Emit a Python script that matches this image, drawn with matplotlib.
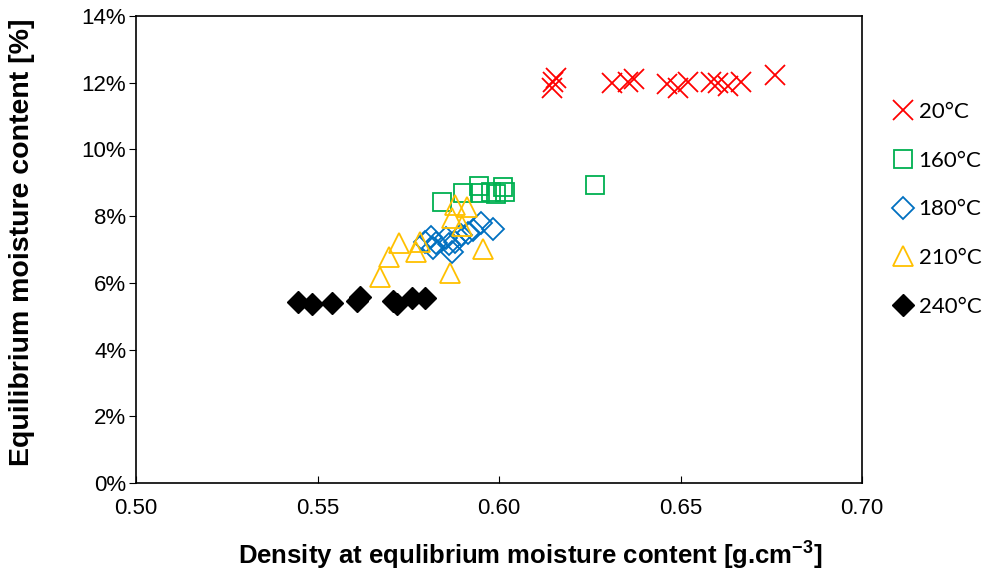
import matplotlib
matplotlib.use("Agg")
import matplotlib.pyplot as plt
from matplotlib.ticker import FuncFormatter

# values
x_20 = [0.6149, 0.6157, 0.6146, 0.6311, 0.6355, 0.6372, 0.6463, 0.6493,
        0.6521, 0.6584, 0.6603, 0.6631, 0.6667, 0.6760]
y_20 = [12.02, 12.14, 11.84, 11.99, 12.02, 12.11, 11.96, 11.84,
        12.02, 12.02, 11.99, 11.90, 12.02, 12.23]

x_160 = [0.5843, 0.5901, 0.5945, 0.5948, 0.5978, 0.5992, 0.6011, 0.6017, 0.6264]
y_160 = [8.42, 8.69, 8.90, 8.69, 8.72, 8.66, 8.87, 8.72, 8.93]

x_180 = [0.5796, 0.5813, 0.5826, 0.5818, 0.5854, 0.5862, 0.5871, 0.5879,
         0.5895, 0.5915, 0.5928, 0.5950, 0.5983]
y_180 = [7.22, 7.37, 7.19, 7.04, 7.34, 7.16, 6.92, 7.22,
         7.43, 7.49, 7.58, 7.79, 7.61]

x_210 = [0.5672, 0.5697, 0.5725, 0.5771, 0.5782, 0.5871, 0.5879, 0.5898,
         0.5912, 0.5956, 0.5865]
y_210 = [6.18, 6.77, 7.19, 6.92, 7.22, 7.94, 8.33, 7.70, 8.27, 7.01, 6.29]

x_240 = [0.5446, 0.5485, 0.5540, 0.5609, 0.5617, 0.5708, 0.5719, 0.5760, 0.5796]
y_240 = [5.43, 5.37, 5.40, 5.46, 5.58, 5.46, 5.37, 5.55, 5.55]

plt.rcParams['font.family'] = ['Liberation Sans', 'DejaVu Sans']

fig = plt.figure(figsize=(9.85, 5.77), dpi=100)
ax = fig.add_axes([136/985, 1 - 483/577, (862-136)/985, (483-16)/577])

ax.plot(x_20, y_20, ls='none', marker='x', ms=15, mew=1.3, color='#FF0000', label='20°C')
ax.plot(x_160, y_160, ls='none', marker='s', ms=13, mew=1.3, mfc='none', mec='#00B050', label='160°C')
ax.plot(x_180, y_180, ls='none', marker='D', ms=11, mew=1.3, mfc='none', mec='#0070C0', label='180°C')
ax.plot(x_210, y_210, ls='none', marker='^', ms=14, mew=1.3, mfc='none', mec='#FFC000', label='210°C')
ax.plot(x_240, y_240, ls='none', marker='D', ms=11, color='black', label='240°C')

ax.set_xlim(0.50, 0.70)
ax.set_ylim(0, 14)
ax.set_xticks([0.50, 0.55, 0.60, 0.65, 0.70])
ax.set_yticks(range(0, 15, 2))
ax.yaxis.set_major_formatter(FuncFormatter(lambda v, p: f"{v:.0f}%"))
ax.xaxis.set_major_formatter(FuncFormatter(lambda v, p: f"{v:.2f}"))
ax.tick_params(axis='x', direction='in', length=5, labelsize=16, pad=11)
ax.tick_params(axis='y', direction='out', length=5, labelsize=16, pad=2)
for s in ax.spines.values():
    s.set_linewidth(1.2)

ax.set_xlabel('Density at equlibrium moisture content [g.cm$^{\\mathregular{-3}}$]',
              fontsize=18.5, fontweight='bold')
ax.set_ylabel('Equilibrium moisture content [%]', fontsize=20.5, fontweight='bold')
ax.xaxis.set_label_coords((530-136)/726, -(555-483)/467)
ax.yaxis.set_label_coords((22-136)/726, (483-242)/467)
ax.xaxis.label.set_va('center')
ax.yaxis.label.set_va('center')

fig.legend(loc='upper left', bbox_to_anchor=(872/985, 1 - 82/577), frameon=False,
           prop={'family': 'Lato', 'size': 16}, handletextpad=0.2, labelspacing=1.29,
           handlelength=1.0)

fig.savefig('out.png', dpi=100)
